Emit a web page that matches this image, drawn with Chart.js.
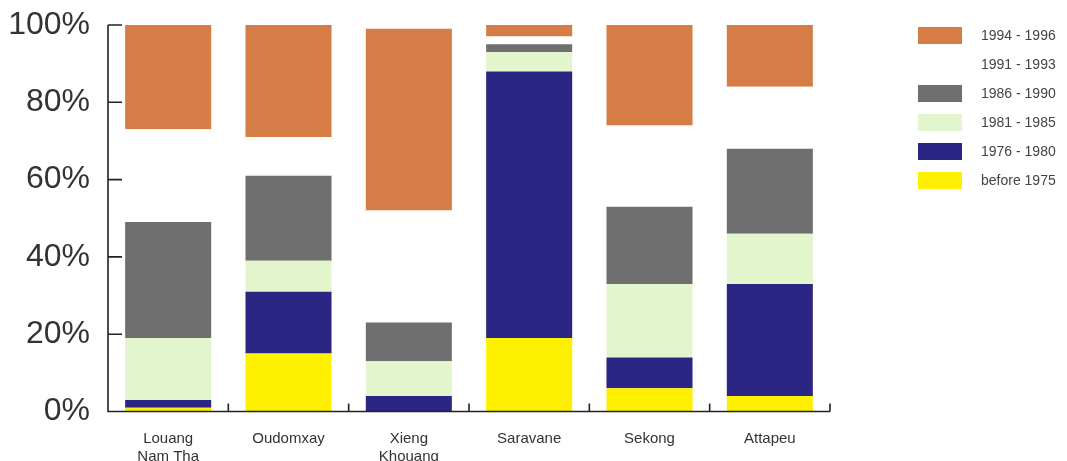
<!DOCTYPE html>
<html>
<head>
<meta charset="utf-8">
<title>Settlement period by province</title>
<script src="https://cdn.jsdelivr.net/npm/chart.js@4/dist/chart.umd.min.js"></script>
<style>
    html, body { margin: 0; padding: 0; background: #fff; }
    #wrap { width: 1067px; height: 461px; position: relative; }
</style>
</head>
<body>
<div id="wrap"><canvas id="chart"></canvas></div>
<script>
const provinces = [['Louang', 'Nam Tha'], 'Oudomxay', ['Xieng', 'Khouang'], 'Saravane', 'Sekong', 'Attapeu'];

// share of households (%) by period of arrival
const before1975 = [1, 15, 0, 19, 6, 4];
const p1976_1980 = [2, 16, 4, 69, 8, 29];
const p1981_1985 = [16, 8, 9, 5, 19, 13];
const p1986_1990 = [30, 22, 10, 2, 20, 22];
const p1991_1993 = [24, 10, 29, 2, 21, 16];
const p1994_1996 = [27, 29, 47, 3, 26, 16];

const yTicks = [0, 20, 40, 60, 80, 100];

const FONT = "'Liberation Sans', Arial, sans-serif";

// axis lines with short inward tick marks
const axisTicks = {
    id: 'axisTicks',
    afterDatasetsDraw(chart) {
        const { ctx, chartArea, scales } = chart;
        const x = scales.x, y = scales.y;
        ctx.save();
        ctx.strokeStyle = '#222';
        ctx.lineWidth = 1.6;
        ctx.beginPath();
        ctx.moveTo(chartArea.left, chartArea.top);
        ctx.lineTo(chartArea.left, chartArea.bottom);
        ctx.lineTo(chartArea.right, chartArea.bottom);
        yTicks.forEach(v => {
            const py = y.getPixelForValue(v);
            ctx.moveTo(chartArea.left, py);
            ctx.lineTo(chartArea.left + 14, py);
        });
        const step = x.getPixelForValue(1) - x.getPixelForValue(0);
        for (let i = 0; i < provinces.length; i++) {
            const px = x.getPixelForValue(i) + step / 2;
            ctx.moveTo(px, chartArea.bottom);
            ctx.lineTo(px, chartArea.bottom - 8);
        }
        ctx.stroke();
        ctx.restore();
    }
};

// legend column on the right, newest period first
const sideLegend = {
    id: 'sideLegend',
    afterDraw(chart) {
        const ctx = chart.ctx;
        const sets = chart.data.datasets.slice().reverse();
        ctx.save();
        ctx.font = '14px ' + FONT;
        ctx.textBaseline = 'middle';
        ctx.textAlign = 'left';
        sets.forEach((ds, r) => {
            const cy = 35.5 + r * 29;
            ctx.fillStyle = ds.backgroundColor;
            ctx.fillRect(918, cy - 8.5, 44, 17);
            ctx.fillStyle = '#444';
            ctx.fillText(ds.label, 981, cy + 1);
        });
        ctx.restore();
    }
};

new Chart(document.getElementById('chart'), {
    type: 'bar',
    data: {
        labels: provinces,
        datasets: [
            { label: 'before 1975', data: before1975, backgroundColor: '#fff000' },
            { label: '1976 - 1980', data: p1976_1980, backgroundColor: '#2b2683' },
            { label: '1981 - 1985', data: p1981_1985, backgroundColor: '#e2f5cc' },
            { label: '1986 - 1990', data: p1986_1990, backgroundColor: '#6f6f6f' },
            { label: '1991 - 1993', data: p1991_1993, backgroundColor: '#ffffff' },
            { label: '1994 - 1996', data: p1994_1996, backgroundColor: '#d57c47' }
        ]
    },
    options: {
        responsive: true,
        maintainAspectRatio: false,
        animation: false,
        layout: { padding: { top: 25, right: 237, left: 0, bottom: 0 } },
        datasets: { bar: { categoryPercentage: 1, barPercentage: 0.715, borderWidth: 0 } },
        plugins: { legend: { display: false }, tooltip: { enabled: false } },
        scales: {
            x: {
                stacked: true,
                grid: { display: false, drawTicks: false },
                border: { display: false },
                ticks: { color: '#333', padding: 19, font: { family: FONT, size: 15, lineHeight: 1.15 }, maxRotation: 0 },
                afterFit(scale) { scale.height = 49.5; scale.paddingLeft = 0; scale.paddingRight = 0; }
            },
            y: {
                stacked: true,
                min: 0,
                max: 100,
                grid: { display: false, drawTicks: false },
                border: { display: false },
                ticks: { stepSize: 20, color: '#333', padding: 18, font: { family: FONT, size: 32 }, callback: v => v + '%' },
                afterFit(scale) { scale.width = 108; scale.paddingTop = 0; scale.paddingBottom = 0; }
            }
        }
    },
    plugins: [axisTicks, sideLegend]
});
</script>
</body>
</html>
